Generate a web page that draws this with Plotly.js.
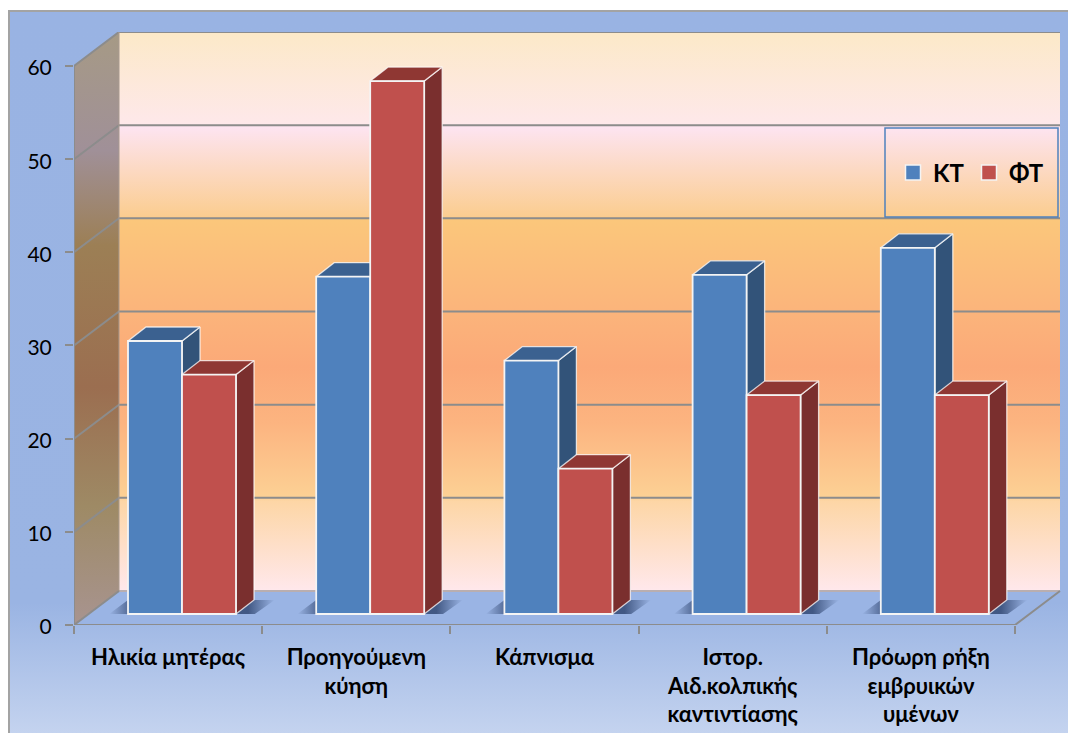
<!DOCTYPE html>
<html>
<head>
<meta charset="utf-8">
<script src="https://cdn.plot.ly/plotly-3.0.1.min.js"></script>
<style>html,body{margin:0;padding:0;background:#fff;overflow:hidden}</style>
</head>
<body>
<div id="chart" style="width:1068px;height:733px"></div>
<script>
// Risk factors per group, percentages
const categoryLines = [
  ["Ηλικία μητέρας"],
  ["Προηγούμενη", "κύηση"],
  ["Κάπνισμα"],
  ["Ιστορ.", "Αιδ.κολπικής", "καντιντίασης"],
  ["Πρόωρη ρήξη", "εμβρυικών", "υμένων"]
];
const seriesKT = [29.3, 36.2, 27.2, 36.4, 39.3];
const seriesFT = [25.7, 57.2, 15.6, 23.5, 23.5];
const yTicks = [0, 10, 20, 30, 40, 50, 60];

const W = 1068, H = 733;
const plotL = 74, plotR = 1061, plotT = 32, plotB = 625;
const xUnitPx = 188.2, yUnitPx = 9.317;

// Depth of the box and of each column, in axis units
const wallDX = 45 / xUnitPx, wallDY = 34 / yUnitPx;
const barDX = 18 / xUnitPx, barDY = 14 / yUnitPx;
const lift = 11 / yUnitPx;
const slotStart = 54 / xUnitPx, barW = 54 / xUnitPx;
const xMax = (plotR - plotL) / xUnitPx, yMax = (plotB - plotT) / yUnitPx;
const n = categoryLines.length;
const left = (i, s) => i + slotStart + s * barW;

const GRID = "#8c8c8c";

// Page backdrop: white sheet with a blue panel that lightens towards the bottom
function backdrop() {
  const c = document.createElement("canvas");
  c.width = W; c.height = H;
  const g = c.getContext("2d");
  g.fillStyle = "#fff"; g.fillRect(0, 0, W, H);
  const lg = g.createLinearGradient(0, 10, 0, H);
  lg.addColorStop(0, "#99b3e3");
  lg.addColorStop(0.82, "#9ab4e3");
  lg.addColorStop(1, "#c4d3ef");
  g.fillStyle = lg; g.fillRect(9, 11, W - 9, H - 11);
  g.fillStyle = "#a3a3a3";
  g.fillRect(8, 10, W - 8, 2);
  g.fillRect(8, 10, 2, H - 10);
  return c.toDataURL("image/png");
}

// Helpers producing outlines in axis units
function closed(points) { return points.concat([points[0]]); }
function polygons(list) {
  const x = [], y = [];
  list.forEach((p, k) => {
    if (k) { x.push(null); y.push(null); }
    closed(p).forEach(q => { x.push(q[0]); y.push(q[1]); });
  });
  return { x, y };
}
function segments(list) {
  const x = [], y = [];
  list.forEach((s, k) => {
    if (k) { x.push(null); y.push(null); }
    s.forEach(q => { x.push(q[0]); y.push(q[1]); });
  });
  return { x, y };
}
const face = (pts, extra) => Object.assign({
  type: "scatter", mode: "lines", fill: "toself", hoverinfo: "skip",
  showlegend: false, cliponaxis: false, line: { width: 0 }
}, polygons(pts), extra);
const stroke = (segs, color, width) => Object.assign({
  type: "scatter", mode: "lines", hoverinfo: "skip", showlegend: false,
  cliponaxis: false, line: { color: color, width: width }
}, segments(segs));

const traces = [];

// Back wall
traces.push(face([[[wallDX, wallDY], [5 + wallDX, wallDY], [5 + wallDX, 60 + wallDY], [wallDX, 60 + wallDY]]], {
  fillgradient: {
    type: "vertical", start: 60 + wallDY, stop: wallDY,
    colorscale: [
      [0, "#fce9c8"], [0.165, "#fee8ea"], [0.17, "#fde4f1"], [0.33, "#fbcd90"], [0.335, "#fbc77b"],
      [0.5, "#fbb47b"], [0.6, "#fba978"], [0.7, "#fcb480"], [0.83, "#fcd094"], [0.84, "#fdd6a6"], [1, "#ffe8ec"]
    ]
  }
}));
// Side wall
traces.push(face([[[0, 0], [wallDX, wallDY], [wallDX, 60 + wallDY], [0, 60]]], {
  fillgradient: {
    type: "vertical", start: yMax, stop: 0,
    colorscale: [
      [0, "#a69a85"], [0.2, "#a09098"], [0.36, "#9c7f55"], [0.6, "#9b6e50"], [0.8, "#9e8a65"], [1, "#a89490"]
    ]
  }
}));
// Floor
traces.push(face([[[0, 0], [5, 0], [5 + wallDX, wallDY], [wallDX, wallDY]]], { fillcolor: "#9ab4e4" }));

// Soft shadows cast on the floor by each group
for (let i = 0; i < n; i++) {
  const a = left(i, 0), b = left(i, 2);
  const from = a - 0.1, to = b + barDX + 0.11;
  traces.push(face([[[from, lift], [b + 0.1, lift], [to, lift + barDY], [a, lift + barDY]]], {
    fillgradient: {
      type: "horizontal", start: from, stop: to,
      colorscale: [[0, "rgba(50,72,115,0)"], [0.14, "rgba(50,72,115,0.8)"], [0.84, "rgba(50,72,115,0.85)"], [1, "rgba(50,72,115,0)"]]
    }
  }));
}

// Grid lines across the back and side walls
traces.push(stroke(yTicks.slice(1, -1).map(v => [[0, v], [wallDX, v + wallDY], [5 + wallDX, v + wallDY]]), GRID, 2));
traces.push(stroke([[[0, 60], [wallDX, 60 + wallDY], [5 + wallDX, 60 + wallDY]]], GRID, 2));
traces.push(stroke([[[wallDX, wallDY], [5 + wallDX, wallDY]]], "#b9aeb0", 2));
traces.push(stroke([[[wallDX, wallDY], [wallDX, 60 + wallDY]]], "#a89a90", 1));
// Axis frame
traces.push(stroke([[[0, 60], [0, 0], [5, 0], [5 + wallDX, wallDY]], [[0, 0], [wallDX, wallDY]]], GRID, 2));

// Column sides and tops; the front faces sit on an overlaid axis pair above them
function solids(values, slot, sideColor, topColor) {
  const sides = [], tops = [];
  values.forEach((v, i) => {
    const a = left(i, slot), b = a + barW, t = lift + v;
    sides.push([[b, lift], [b + barDX, lift + barDY], [b + barDX, t + barDY], [b, t]]);
    tops.push([[a, t], [a + barDX, t + barDY], [b + barDX, t + barDY], [b, t]]);
  });
  const edge = { width: 1.3, color: "rgba(255,255,255,0.75)" };
  traces.push(face(sides, { fillcolor: sideColor, line: edge }));
  traces.push(face(tops, { fillcolor: topColor, line: edge }));
}
solids(seriesKT, 0, "#325379", "#3b6190");
solids(seriesFT, 1, "#7a2f2e", "#8f3733");

function fronts(name, values, slot, color) {
  return {
    type: "bar", name: name, xaxis: "x2", yaxis: "y2", showlegend: false,
    x: values.map((_, i) => left(i, slot) + barW / 2),
    y: values,
    base: values.map(() => lift),
    width: barW,
    marker: { color: color, line: { color: "#f4f4f4", width: 1.8 } },
    hovertemplate: name + ": %{y}<extra></extra>"
  };
}
traces.push(fronts("ΚΤ", seriesKT, 0, "#4f81bd"));
traces.push(fronts("ΦΤ", seriesFT, 1, "#c0504d"));

// Legend keys: square markers, larger than the default bar swatch
function key(name, color) {
  return {
    type: "scatter", mode: "markers", name: name, x: [null], y: [null], hoverinfo: "skip",
    marker: { symbol: "square", size: 15, color: color, line: { color: "#f4f4f4", width: 1.5 } }
  };
}
traces.push(key("ΚΤ", "#4f81bd"));
traces.push(key("ΦΤ", "#c0504d"));

const labelFont = "Lato, 'Open Sans', sans-serif";

const layout = {
  width: W, height: H,
  margin: { l: plotL, r: W - plotR, t: plotT, b: H - plotB, pad: 0 },
  paper_bgcolor: "#fff",
  plot_bgcolor: "rgba(0,0,0,0)",
  barmode: "overlay",
  xaxis: {
    range: [0, xMax], showgrid: false, zeroline: false, showline: false,
    tickmode: "array",
    tickvals: categoryLines.map((_, i) => i + 0.5),
    ticktext: categoryLines.map(l => l.join("<br>")),
    ticks: "", tickangle: 0, ticklabelstandoff: 17,
    tickfont: { family: labelFont, size: 22, color: "#000", weight: 700 },
    minor: { tickmode: "array", tickvals: [0, 1, 2, 3, 4, 5], ticks: "outside", ticklen: 8, tickwidth: 2, tickcolor: GRID, showgrid: false }
  },
  yaxis: {
    range: [0, yMax], showgrid: false, zeroline: false, showline: false,
    tickmode: "array", tickvals: yTicks, ticks: "outside", ticklen: 8, tickwidth: 2, tickcolor: GRID,
    ticklabelstandoff: 9, ticklabelshift: 2,
    tickfont: { family: labelFont, size: 21, color: "#000" }
  },
  xaxis2: { range: [0, xMax], overlaying: "x", visible: false },
  yaxis2: { range: [0, yMax], overlaying: "y", visible: false },
  showlegend: true,
  legend: {
    orientation: "h", xref: "paper", yref: "paper",
    x: (893 - plotL) / (plotR - plotL), xanchor: "left",
    y: (plotB - 173) / (plotB - plotT), yanchor: "middle",
    bgcolor: "rgba(0,0,0,0)", borderwidth: 0,
    entrywidth: 31, entrywidthmode: "pixels", itemclick: false, itemdoubleclick: false,
    font: { family: labelFont, size: 24, color: "#000", weight: 700 }
  },
  images: [{
    source: backdrop(), xref: "paper", yref: "paper", layer: "below", sizing: "stretch",
    x: -plotL / (plotR - plotL), y: plotB / (plotB - plotT),
    sizex: W / (plotR - plotL), sizey: H / (plotB - plotT),
    xanchor: "left", yanchor: "top"
  }],
  shapes: [{
    type: "rect", xref: "paper", yref: "paper",
    x0: (885 - plotL) / (plotR - plotL), x1: (1058 - plotL) / (plotR - plotL),
    y0: (plotB - 217) / (plotB - plotT), y1: (plotB - 128) / (plotB - plotT),
    line: { color: "#4f81bd", width: 1.5 }, fillcolor: "rgba(0,0,0,0)"
  }]
};

Plotly.newPlot("chart", traces, layout, { displayModeBar: false });
</script>
</body>
</html>
